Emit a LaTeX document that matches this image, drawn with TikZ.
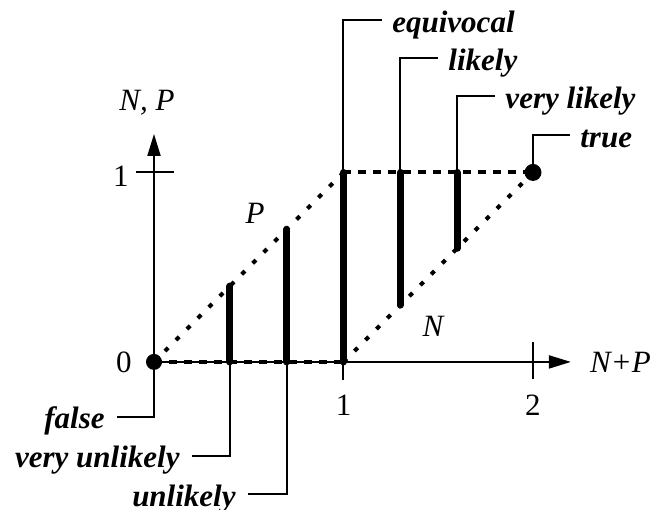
\documentclass[tikz,border=0pt]{standalone}
\usepackage{fontspec}
\setmainfont{Liberation Serif}
\usetikzlibrary{arrows.meta,positioning}

\begin{document}
\begin{tikzpicture}[
  x=94.75pt, y=94.75pt,
  font=\fontsize{15.5}{18}\selectfont,
  axis/.style={line width=1pt, -{Triangle[length=11pt, width=6.5pt]}},
  tick/.style={line width=1pt},
  bar/.style={line width=3.5pt, line cap=round},
  diag/.style={line width=2pt, dash pattern=on 2.3pt off 5.45pt},
  flat/.style={line width=2pt, dash pattern=on 4pt off 3.5pt},
  leader/.style={line width=1pt},
  dot/.style={circle, fill, inner sep=0pt, minimum size=8pt},
  tag/.style={font=\fontsize{15.5}{18}\selectfont\bfseries\itshape, inner sep=0pt},
  tagl/.style={tag, anchor=base east, xshift=-6pt, yshift=-6pt},
  tagr/.style={tag, anchor=base west, xshift=5pt, yshift=-6.5pt},
  num/.style={inner sep=0pt},
  var/.style={font=\fontsize{15.5}{18}\selectfont\itshape, inner sep=0pt}
]
  \useasboundingbox (-0.8127,-0.781) rectangle (2.628,1.910);

  \coordinate (o) at (0,0);
  \coordinate (c_one) at (1,0);
  \coordinate (c_top) at (1,1);
  \coordinate (c_true) at (2,1);

  \draw[axis] (o) -- (0,1.203) coordinate (y_tip);
  \draw[axis] (o) -- (2.2,0) coordinate (x_tip);
  \draw[tick] (-0.095,1) -- (0.105,1);
  \draw[tick] (1,0) -- (1,-0.095);
  \draw[tick] (2,0.105) -- (2,-0.09);

  \draw[diag] (o) -- (c_top);
  \draw[diag] (c_one) -- (c_true);
  \draw[flat] (o) -- (c_one);
  \draw[flat] (c_top) -- (c_true);

  \coordinate (b_vu) at (0.4,0);   \coordinate (t_vu) at (0.4,0.4);
  \coordinate (b_un) at (0.7,0);   \coordinate (t_un) at (0.7,0.7);
  \coordinate (b_eq) at (1,1);     \coordinate (t_eq) at (1,0);
  \coordinate (b_li) at (1.3,1);   \coordinate (t_li) at (1.3,0.3);
  \coordinate (b_vl) at (1.6,1);   \coordinate (t_vl) at (1.6,0.6);
  \foreach \k in {vu,un,eq,li,vl}
    \draw[bar] (b_\k) -- (t_\k);

  \node[dot] (d_false) at (o) {};
  \node[dot, minimum size=8.5pt] (d_true) at (c_true) {};

  \coordinate (e_false) at (-0.195,-0.29);
  \coordinate (e_vu) at (0.2,-0.496);
  \coordinate (e_un) at (0.496,-0.697);
  \coordinate (e_eq) at (1.203,1.805);
  \coordinate (e_li) at (1.499,1.604);
  \coordinate (e_vl) at (1.8,1.404);
  \coordinate (e_true) at (2.195,1.198);

  \draw[leader] (d_false) |- (e_false);
  \draw[leader] (b_vu) |- (e_vu);
  \draw[leader] (b_un) |- (e_un);
  \draw[leader] (b_eq) |- (e_eq);
  \draw[leader] (b_li) |- (e_li);
  \draw[leader] (b_vl) |- (e_vl);
  \draw[leader] (d_true) |- (e_true);

  \node[tagl] (l_false) at (e_false) {false};
  \node[tagl] (l_vu) at (e_vu) {very unlikely};
  \node[tagl] (l_un) at (e_un) {unlikely};
  \node[tagr] (l_eq) at (e_eq) {equivocal};
  \node[tagr] (l_li) at (e_li) {likely};
  \node[tagr] (l_vl) at (e_vl) {very likely};
  \node[tagr] (l_true) at (e_true) {true};

  \node[num, anchor=east] (n_x0) at (-0.116,0) {0};
  \node[num, anchor=east] (n_y1) at (-0.132,0.982) {1};
  \node[num, anchor=north] (n_x1) at (1,-0.174) {1};
  \node[num, anchor=north] (n_x2) at (2,-0.174) {2};

  \node[var, anchor=west] (v_sum) at (2.30,0) {N+P};
  \node[var, anchor=base] (v_np) at (-0.037,1.325) {N, P};
  \node[var, anchor=base] (v_p) at (0.533,0.728) {P};
  \node[var, anchor=base] (v_n) at (1.472,0.132) {N};
\end{tikzpicture}
\end{document}
